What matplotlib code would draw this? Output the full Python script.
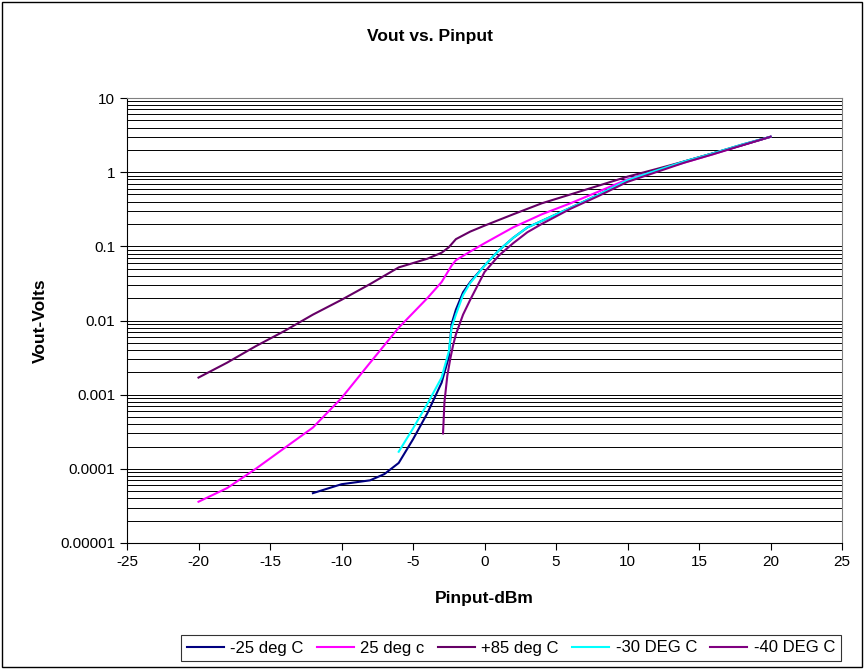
import matplotlib
matplotlib.use("Agg")
import matplotlib.pyplot as plt
from matplotlib.patches import Rectangle
from matplotlib.ticker import LogLocator, FixedLocator, FuncFormatter, NullFormatter

plt.rcParams['font.family'] = ['Liberation Sans', 'DejaVu Sans']
plt.rcParams['axes.unicode_minus'] = False

# -25 deg C
x_m25 = [-12, -10, -8, -7, -6, -5, -4, -3, -2.5, -2.3, -2, -1.5, -1, 0, 1, 2, 3, 4, 6, 8, 10, 12, 14, 16, 18, 20]
v_m25 = [4.7e-5, 6.2e-5, 7.0e-5, 8.5e-5, 1.2e-4, 2.5e-4, 5.6e-4, 1.45e-3, 3.2e-3, 9e-3, 0.014, 0.024,
         0.033, 0.055, 0.088, 0.13, 0.18, 0.22, 0.33, 0.5, 0.78, 1.05, 1.4, 1.8, 2.35, 3.0]

# 25 deg c
x_25 = [-20, -18, -16, -14, -12, -10, -8, -6, -4, -3, -2.3, -2, -1, 0, 2, 4, 6, 8, 10, 12, 14, 16, 18, 20]
v_25 = [3.6e-5, 5.5e-5, 1.0e-4, 1.9e-4, 3.6e-4, 9e-4, 2.7e-3, 8e-3, 0.02, 0.033, 0.055, 0.065, 0.085, 0.11,
        0.18, 0.27, 0.38, 0.55, 0.8, 1.05, 1.35, 1.75, 2.3, 3.0]

# +85 deg C
x_85 = [-20, -18, -16, -14, -12, -10, -8, -6, -4, -3, -2.5, -2, -1, 0, 2, 4, 6, 8, 10, 12, 14, 16, 18, 20]
v_85 = [0.0017, 0.0027, 0.0045, 0.0072, 0.012, 0.019, 0.031, 0.052, 0.068, 0.082, 0.097, 0.125, 0.158,
        0.19, 0.27, 0.38, 0.5, 0.66, 0.87, 1.1, 1.4, 1.8, 2.3, 3.0]

# -30 DEG C
x_m30 = [-6, -5, -4, -3, -2.5, -2.3, -2, -1.5, -1, 0, 1, 2, 3, 4, 6, 8, 10, 12, 14, 16, 18, 20]
v_m30 = [1.7e-4, 3.5e-4, 7.5e-4, 1.7e-3, 3.8e-3, 8e-3, 0.012, 0.022, 0.032, 0.055, 0.088, 0.13, 0.18,
         0.22, 0.33, 0.5, 0.78, 1.05, 1.4, 1.8, 2.35, 3.0]

# -40 DEG C
x_m40 = [-2.9, -2.8, -2.6, -2.4, -2.2, -2, -1.5, -1, 0, 1, 2, 3, 4, 6, 8, 10, 12, 14, 16, 18, 20]
v_m40 = [3e-4, 8e-4, 1.8e-3, 3e-3, 4.6e-3, 6.5e-3, 0.012, 0.019, 0.045, 0.075, 0.11, 0.155, 0.2,
         0.32, 0.48, 0.74, 1.0, 1.35, 1.75, 2.3, 3.0]

x_ticks = [-25, -20, -15, -10, -5, 0, 5, 10, 15, 20, 25]
y_ticks = [1e-5, 1e-4, 1e-3, 1e-2, 1e-1, 1, 10]
y_labels = ["0.00001", "0.0001", "0.001", "0.01", "0.1", "1", "10"]

fig = plt.figure(figsize=(8.65, 6.7), dpi=100)
ax = fig.add_axes([127 / 865, 1 - 543 / 670, 715 / 865, 445 / 670])

ax.plot(x_m25, v_m25, color="#000080", lw=1.5, label="-25 deg C")
ax.plot(x_25, v_25, color="#FF00FF", lw=1.5, label="25 deg c")
ax.plot(x_85, v_85, color="#660066", lw=1.5, label="+85 deg C")
ax.plot(x_m30, v_m30, color="#00FFFF", lw=1.5, label="-30 DEG C")
ax.plot(x_m40, v_m40, color="#800080", lw=1.5, label="-40 DEG C")

ax.set_yscale("log")
ax.set_xlim(-25, 25)
ax.set_ylim(1e-5, 10)
ax.xaxis.set_major_locator(FixedLocator(x_ticks))
ax.yaxis.set_major_locator(FixedLocator(y_ticks))
ax.yaxis.set_major_formatter(FuncFormatter(lambda v, p: y_labels[y_ticks.index(v)] if v in y_ticks else ""))
ax.yaxis.set_minor_locator(LogLocator(base=10, subs=range(2, 10)))
ax.yaxis.set_minor_formatter(NullFormatter())
ax.grid(True, which="both", axis="y", color="black", lw=0.7)
ax.set_axisbelow(True)
ax.tick_params(axis="both", which="major", direction="out", length=5, labelsize=11, color="black")
ax.tick_params(axis="y", which="minor", length=0)

for s in ["top", "right"]:
    ax.spines[s].set_color("#808080")
for s in ["left", "bottom"]:
    ax.spines[s].set_color("black")

ax.set_xlabel("Pinput-dBm", fontsize=12.5, fontweight="bold", labelpad=16)
ax.set_ylabel("Vout-Volts", fontsize=12.5, fontweight="bold", labelpad=9)
fig.text(0.497, 1 - 37 / 670, "Vout vs. Pinput", ha="center", va="center", fontsize=12.5, fontweight="bold")

leg = fig.legend(loc="center", bbox_to_anchor=(511 / 865, 1 - 648 / 670), ncol=5, fontsize=12,
                 frameon=True, fancybox=False, edgecolor="black", handlelength=2.2,
                 handletextpad=0.4, columnspacing=0.8, borderpad=0.35)
leg.get_frame().set_linewidth(0.8)

fig.patches.append(Rectangle((2 / 865, 3 / 670), 860 / 865, 665 / 670, transform=fig.transFigure,
                             fill=False, edgecolor="black", lw=1))

fig.savefig("out.png", dpi=100)
